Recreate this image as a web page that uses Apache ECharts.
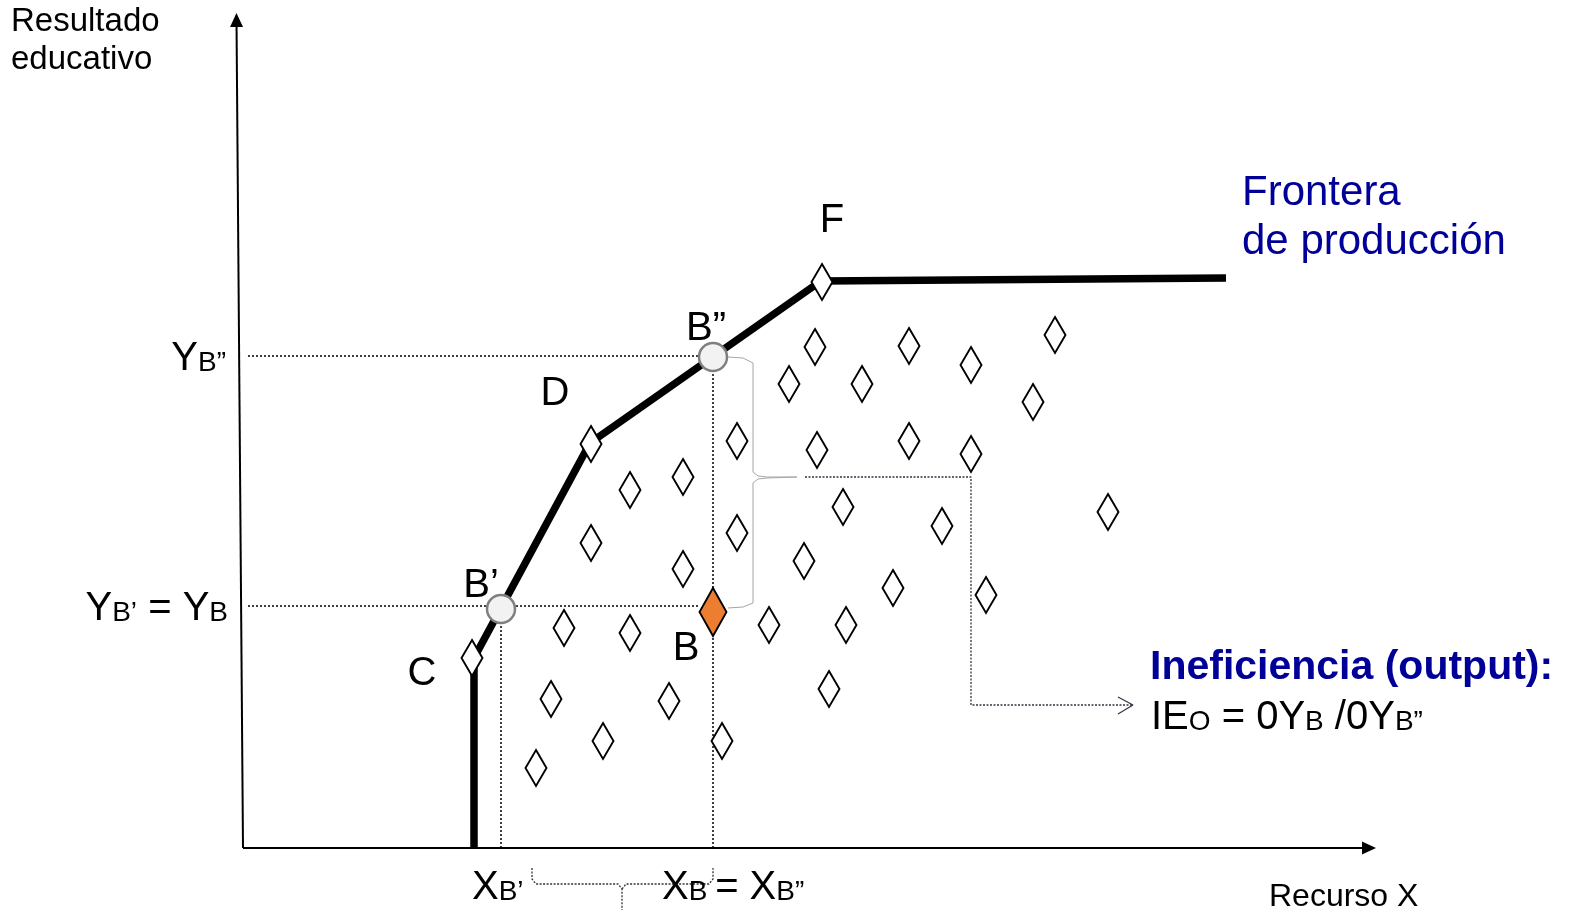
<!DOCTYPE html>
<html>
<head>
<meta charset="utf-8">
<script src="https://cdn.jsdelivr.net/npm/echarts@6/dist/echarts.min.js"></script>
<style>
html, body { margin: 0; padding: 0; background: #fff; }
#chart { width: 1571px; height: 914px; }
</style>
</head>
<body>
<div id="chart"></div>
<script>

// production frontier (C -> D -> F -> flat)
const frontierX = [231, 231, 347, 578, 983]
const frontierY = [0, 190, 405, 567, 570]

// observed units (white diamonds), C, D and F first
const unitX = [229, 348, 579, 572, 666, 812, 728, 546, 619, 790, 494, 574, 666, 728, 387, 440, 600, 699, 865, 348, 494, 561, 440, 650, 743, 321, 387, 526, 603, 586, 308, 426, 360, 479, 293]
const unitY = [190, 404, 566, 501, 502, 513, 483, 464, 464, 446, 407, 398, 407, 394, 358, 371, 341, 322, 336, 305, 315, 287, 279, 260, 253, 220, 215, 223, 223, 159, 149, 147, 107, 107, 80]

// unit B and its projections B' and B''
const unitB = [470, 236]
const projX = [258, 470]
const projY = [239, 491]

// guide lines
const guideYB2x = [5, 456], guideYB2y = [492, 492]
const guideYBx = [5, 457], guideYBy = [242, 242]
const guideXB2x = [470, 470], guideXB2y = [478, 0]
const guideXB1x = [258, 258], guideXB1y = [226, 0]

// brace between B and B'' and its arrow to the formula
const braceX = [485, 500, 510, 510, 515, 524, 554, 524, 515, 510, 510, 500, 485]
const braceY = [491, 490, 485, 376, 372, 371, 371, 370, 369, 365, 245, 241, 240]
const linkX = [562, 728, 728, 890]
const linkY = [371, 371, 143, 143]
const headX = [875, 890, 875]
const headY = [151, 143, 134]

// brace under the x axis
const lowBraceLX = [289, 289, 293, 375, 379, 379]
const lowBraceLY = [-20, -31, -36, -36, -41, -62]
const lowBraceRX = [379, 383, 466, 470, 470]
const lowBraceRY = [-41, -36, -36, -31, -20]

// axis arrow tips
const xAxisEnd = [1126, 0]
const yAxisEnd = [-6.5, 828]

// point letters
const letters = ['F', 'D', 'C', 'B', 'B’', 'B”']
const letterX = [589, 312, 179, 443, 238, 463]
const letterY = [627, 454, 174, 199, 262, 519]

const FONT = '"Liberation Sans", Arial, sans-serif'
const BLUE = '#000099'

const pairs = (xs, ys) => xs.map((x, i) => [x, ys[i]])

const plainLine = (xs, ys, color, width, type, z) => ({
    type: 'line',
    data: pairs(xs, ys),
    symbol: 'none',
    silent: true,
    z: z || 1,
    lineStyle: { color: color, width: width, type: type, opacity: 1 }
})

const rich = {
    big: { fontSize: 40, verticalAlign: 'bottom', fontFamily: FONT, color: '#000' },
    small: { fontSize: 28, verticalAlign: 'bottom', padding: [0, 0, 2, 0], fontFamily: FONT, color: '#000' }
}

const textItem = (x, y, text, style) => ({
    value: [x, y],
    label: Object.assign({
        show: true,
        position: 'inside',
        formatter: text,
        color: '#000',
        textBorderWidth: 0,
        fontFamily: FONT,
        fontSize: 40,
        align: 'center',
        verticalAlign: 'middle'
    }, style)
})

const texts = [
    textItem(-232, 807, 'Resultado\neducativo', { fontSize: 33, lineHeight: 38, align: 'left' }),
    textItem(1026, -49, 'Recurso X', { fontSize: 32, align: 'left' }),
    textItem(999, 630, 'Frontera\nde producción', { fontSize: 42, lineHeight: 49, align: 'left', color: BLUE }),
    textItem(907, 180, 'Ineficiencia (output):', { fontSize: 41, fontWeight: 'bold', align: 'left', color: BLUE }),
    textItem(908, 130, '{big|IE}{small|O}{big| = 0Y}{small|B}{big| /0Y}{small|B”}', { align: 'left', rich: rich }),
    textItem(-17, 489, '{big|Y}{small|B”}', { align: 'right', rich: rich }),
    textItem(-15, 239, '{big|Y}{small|B’}{big| = Y}{small|B}', { align: 'right', rich: rich }),
    textItem(229, -40, '{big|X}{small|B’}', { align: 'left', rich: rich }),
    textItem(419, -40, '{big|X}{small|B }{big|= X}{small|B”}', { align: 'left', rich: rich })
].concat(letters.map((t, i) => textItem(letterX[i], letterY[i], t, {})))

const chart = echarts.init(document.getElementById('chart'))

const option = {
    animation: false,
    grid: { left: 0, right: 0, top: 0, bottom: 0 },
    xAxis: { type: 'value', min: -243, max: 1328, show: false },
    yAxis: { type: 'value', min: -66, max: 848, show: false },
    series: [
        {
            type: 'line',
            data: [],
            silent: true,
            markLine: {
                silent: true,
                symbol: ['none', 'triangle'],
                symbolSize: [13, 14],
                label: { show: false },
                lineStyle: { color: '#000', width: 2, type: 'solid', opacity: 1 },
                data: [
                    [{ coord: [0, 0] }, { coord: xAxisEnd }],
                    [{ coord: [0, 0] }, { coord: yAxisEnd }]
                ]
            }
        },
        plainLine(guideYB2x, guideYB2y, '#111', 1.6, [2, 2]),
        plainLine(guideYBx, guideYBy, '#111', 1.6, [2, 2]),
        plainLine(guideXB2x, guideXB2y, '#111', 1.6, [2, 2]),
        plainLine(guideXB1x, guideXB1y, '#111', 1.6, [2, 2]),
        plainLine(braceX, braceY, '#a6a6a6', 1, 'solid'),
        plainLine(linkX, linkY, '#333344', 1.3, [2, 1.5]),
        plainLine(headX, headY, '#333344', 1.2, 'solid'),
        plainLine(lowBraceLX, lowBraceLY, '#333', 1.3, [2, 1.5]),
        plainLine(lowBraceRX, lowBraceRY, '#333', 1.3, [2, 1.5]),
        plainLine(frontierX, frontierY, '#000', 7.5, 'solid', 2),
        {
            type: 'scatter',
            data: pairs(unitX, unitY),
            symbol: 'diamond',
            symbolSize: [21, 36],
            silent: true,
            z: 3,
            itemStyle: { color: '#fff', borderColor: '#000', borderWidth: 2, opacity: 1 }
        },
        {
            type: 'scatter',
            data: [unitB],
            symbol: 'diamond',
            symbolSize: [27, 48],
            silent: true,
            z: 4,
            itemStyle: { color: '#ED7D31', borderColor: '#000', borderWidth: 2, opacity: 1 }
        },
        {
            type: 'scatter',
            data: pairs(projX, projY),
            symbol: 'circle',
            symbolSize: 28,
            silent: true,
            z: 4,
            itemStyle: { color: '#f2f2f2', borderColor: '#7f7f7f', borderWidth: 2.5, opacity: 1 }
        },
        {
            type: 'scatter',
            data: texts,
            symbolSize: 1,
            silent: true,
            clip: false,
            z: 5,
            itemStyle: { color: 'rgba(0,0,0,0)', opacity: 1 }
        }
    ]
}

chart.setOption(option)
</script>
</body>
</html>
